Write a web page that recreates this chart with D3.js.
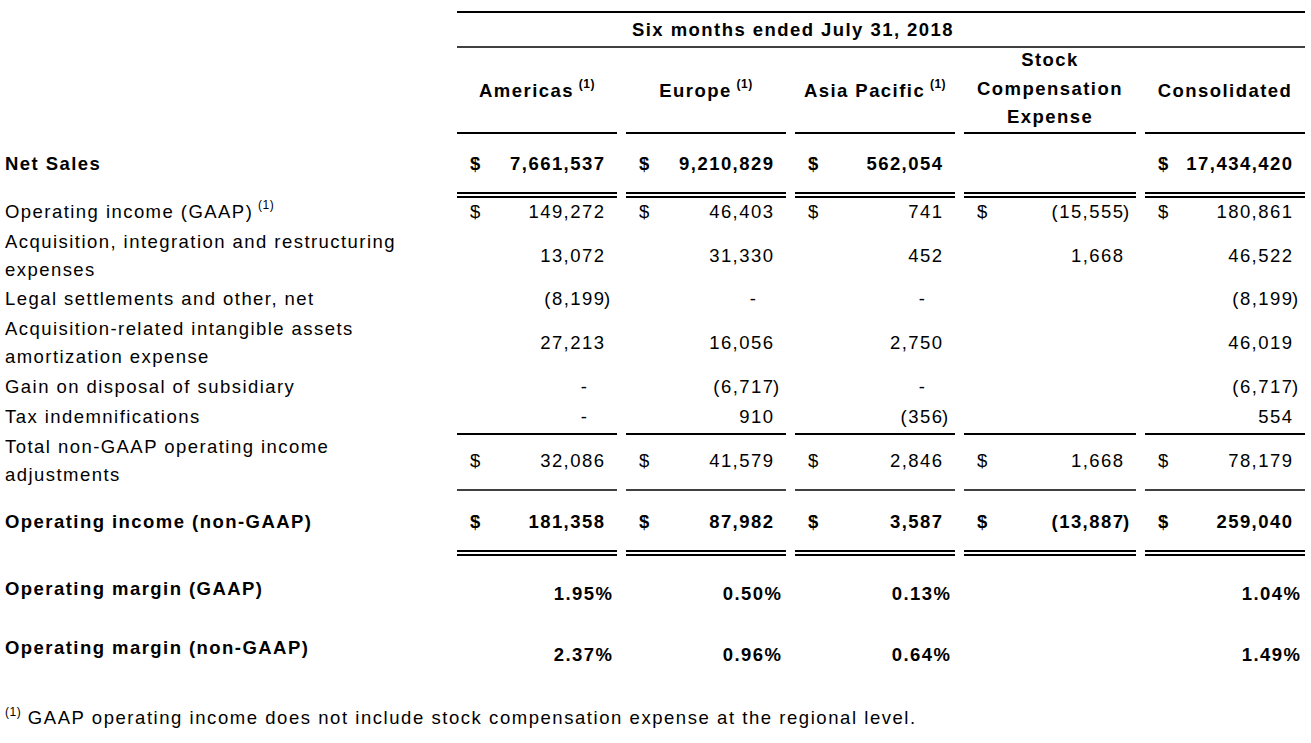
<!DOCTYPE html>
<html>
<head>
<meta charset="utf-8">
<script src="https://cdn.jsdelivr.net/npm/d3@7"></script>
<style>
  html, body { margin: 0; padding: 0; background: #fff; }
  svg { display: block; }
  text { font-family: "Liberation Sans", Arial, sans-serif; fill: #000; }
</style>
</head>
<body>
<svg id="chart" width="1311" height="743"></svg>
<script>
// ---------------- DATA ----------------
const title = "Six months ended July 31,  2018";
const columns = ["Americas", "Europe", "Asia Pacific", "Stock Compensation Expense", "Consolidated"];
const headerLines = [["Americas"], ["Europe"], ["Asia Pacific"], ["Stock", "Compensation", "Expense"], ["Consolidated"]];
const headerFootnote = [true, true, true, false, false];

const netSales        = [7661537, 9210829, 562054, null, 17434420];
const opIncomeGAAP    = [149272, 46403, 741, -15555, 180861];
const acqIntegration  = [13072, 31330, 452, 1668, 46522];
const legalSettlement = [-8199, 0, 0, null, -8199];
const acqIntangible   = [27213, 16056, 2750, null, 46019];
const gainDisposal    = [0, -6717, 0, null, -6717];
const taxIndemn       = [0, 910, -356, null, 554];
const totalAdjust     = [32086, 41579, 2846, 1668, 78179];
const opIncomeNonGAAP = [181358, 87982, 3587, -13887, 259040];
const marginGAAP      = [1.95, 0.50, 0.13, null, 1.04];
const marginNonGAAP   = [2.37, 0.96, 0.64, null, 1.49];

const rowLabels = {
  netSales: ["Net Sales"],
  opIncomeGAAP: ["Operating income (GAAP)"],
  acqIntegration: ["Acquisition, integration and restructuring", "expenses"],
  legalSettlement: ["Legal settlements and other, net"],
  acqIntangible: ["Acquisition-related intangible assets", "amortization expense"],
  gainDisposal: ["Gain on disposal of subsidiary"],
  taxIndemn: ["Tax indemnifications"],
  totalAdjust: ["Total non-GAAP operating income", "adjustments"],
  opIncomeNonGAAP: ["Operating income (non-GAAP)"],
  marginGAAP: ["Operating margin (GAAP)"],
  marginNonGAAP: ["Operating margin (non-GAAP)"]
};
const footnote = "GAAP operating income does not include stock compensation expense at the regional level.";

// ---------------- LAYOUT ----------------
const rows = [
  {key: "netSales", values: netSales, bold: true, dollar: true, pct: false, y: 170, ly: 170},
  {key: "opIncomeGAAP", values: opIncomeGAAP, bold: false, dollar: true, pct: false, y: 218, ly: 218, sup: true},
  {key: "acqIntegration", values: acqIntegration, bold: false, dollar: false, pct: false, y: 262, ly: 248},
  {key: "legalSettlement", values: legalSettlement, bold: false, dollar: false, pct: false, y: 305, ly: 305},
  {key: "acqIntangible", values: acqIntangible, bold: false, dollar: false, pct: false, y: 349, ly: 335},
  {key: "gainDisposal", values: gainDisposal, bold: false, dollar: false, pct: false, y: 393, ly: 393},
  {key: "taxIndemn", values: taxIndemn, bold: false, dollar: false, pct: false, y: 423, ly: 423},
  {key: "totalAdjust", values: totalAdjust, bold: false, dollar: true, pct: false, y: 467, ly: 453},
  {key: "opIncomeNonGAAP", values: opIncomeNonGAAP, bold: true, dollar: true, pct: false, y: 528, ly: 528},
  {key: "marginGAAP", values: marginGAAP, bold: true, dollar: false, pct: true, y: 600, ly: 595},
  {key: "marginNonGAAP", values: marginNonGAAP, bold: true, dollar: false, pct: true, y: 661, ly: 654}
];
const lineHeight = 28;
const FS = 18.5, LS = 1.45;

const colLeft = d3.scaleOrdinal().domain(columns).range([457, 626, 795, 964, 1145]);
const colRight = d3.scaleOrdinal().domain(columns).range([617, 786, 955, 1136, 1305]);

const svg = d3.select("#chart");
const fmt = d3.format(",");
const pfmt = d3.format(".2f");

function txt(x, y, s, opts = {}) {
  return svg.append("text")
    .attr("x", x).attr("y", y)
    .attr("font-size", opts.size || FS)
    .attr("font-weight", opts.bold ? "bold" : "normal")
    .attr("letter-spacing", (opts.ls != null ? opts.ls : LS) + "px")
    .attr("text-anchor", opts.anchor || "start")
    .text(s);
}

// ---------------- RULES ----------------
function hline(y, w, cols) {
  svg.append("g").selectAll("line").data(cols).join("line")
    .attr("x1", d => colLeft(d)).attr("x2", d => colRight(d))
    .attr("y1", y).attr("y2", y)
    .attr("stroke", "#000").attr("stroke-width", w);
}
svg.append("line").attr("x1", colLeft(columns[0])).attr("x2", colRight(columns[4]))
  .attr("y1", 12).attr("y2", 12).attr("stroke", "#000").attr("stroke-width", 2);
svg.append("line").attr("x1", colLeft(columns[0])).attr("x2", colRight(columns[4]))
  .attr("y1", 47).attr("y2", 47).attr("stroke", "#000").attr("stroke-width", 1.5);
hline(133, 2, columns);
hline(193, 2, columns);
hline(197, 2, columns);
hline(434, 2, columns);
hline(490, 1.5, columns);
hline(551, 2, columns);
hline(555, 2, columns);

// ---------------- HEADER ----------------
txt(793, 36, title, {bold: true, anchor: "middle"});
columns.forEach((c, i) => {
  const cx = (colLeft(c) + colRight(c)) / 2;
  const lines = headerLines[i];
  const y0 = lines.length === 1 ? 97 : 66;
  lines.forEach((l, j) => {
    const t = txt(cx, y0 + j * 28.5, l, {bold: true, anchor: "middle"});
    if (headerFootnote[i]) {
      t.append("tspan").text("\u00a0").attr("font-size", 12);
      t.append("tspan").text("(1)").attr("font-size", 12).attr("dy", -9).attr("letter-spacing", "0.5px");
    }
  });
});

// ---------------- BODY ----------------
rows.forEach(r => {
  // label
  rowLabels[r.key].forEach((l, j) => {
    const t = txt(5, r.ly + j * lineHeight, l, {bold: r.bold});
    if (r.sup && j === 0) {
      t.append("tspan").text("\u00a0").attr("font-size", 12);
      t.append("tspan").text("(1)").attr("font-size", 12).attr("dy", -9).attr("letter-spacing", "0.5px");
    }
  });
  // values
  r.values.forEach((v, i) => {
    if (v === null) return;
    const c = columns[i];
    const numRight = colRight(c) - 13;
    if (r.dollar) txt(colLeft(c) + 13, r.y, "$", {bold: r.bold});
    if (r.pct) {
      txt(numRight + 8 + LS, r.y, pfmt(v) + "%", {bold: r.bold, anchor: "end"});
    } else if (v === 0) {
      txt(numRight - 17 + LS, r.y, "-", {bold: r.bold, anchor: "end"});
    } else if (v < 0) {
      txt(numRight + LS, r.y, "(" + fmt(-v), {bold: r.bold, anchor: "end"});
      txt(numRight, r.y, ")", {bold: r.bold});
    } else {
      txt(numRight + LS, r.y, fmt(v), {bold: r.bold, anchor: "end"});
    }
  });
});

// ---------------- FOOTNOTE ----------------
const ft = svg.append("text").attr("x", 5).attr("y", 724)
  .attr("font-size", FS).attr("letter-spacing", "1.55px");
ft.append("tspan").text("(1)").attr("font-size", 12).attr("dy", -8).attr("letter-spacing", "0.5px");
ft.append("tspan").text(" " + footnote).attr("dy", 8);
</script>
</body>
</html>
